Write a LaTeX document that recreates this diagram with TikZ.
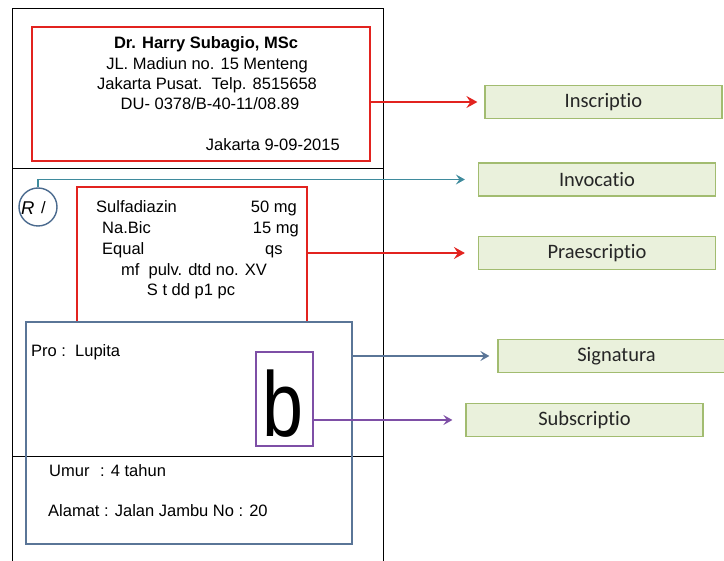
\documentclass[tikz,border=0pt]{standalone}
\usepackage{fontspec}
\setmainfont{Liberation Sans}
\newfontfamily\calib[Ligatures=NoCommon]{Carlito}
\usetikzlibrary{arrows.meta}
\definecolor{rxred}{HTML}{E2231F}
\definecolor{rxteal}{HTML}{3F8B9D}
\definecolor{rxcirc}{HTML}{4A6A8E}
\definecolor{rxsig}{HTML}{5A7597}
\definecolor{rxpurple}{HTML}{7E4FA6}
\definecolor{lblfill}{HTML}{EAF1DC}
\definecolor{lbldraw}{HTML}{A2BC70}
\definecolor{lbltext}{HTML}{262626}
\begin{document}
\begin{tikzpicture}[x=1pt,y=-1pt,
  txt/.style={inner sep=0pt, font=\fontsize{16.5}{20}\selectfont},
  redbox/.style={draw=rxred, line width=1.8pt, inner sep=0pt},
  sigbox/.style={draw=rxsig, line width=1.5pt, inner sep=0pt},
  purplebox/.style={draw=rxpurple, line width=1.3pt, inner sep=0pt},
  lbl/.style={draw=lbldraw, fill=lblfill, line width=1.2pt, minimum width=237pt, minimum height=33pt, inner sep=0pt, text=lbltext, font=\calib\fontsize{20.5}{22}\selectfont},
  tipst/.style={-{Stealth[length=11pt,width=12pt,inset=4pt]}},
  redarrow/.style={rxred, line width=1.8pt, tipst},
  tealarrow/.style={rxteal, line width=1.4pt, -{Stealth[length=9pt,width=10pt,inset=3.5pt]}},
  sigarrow/.style={rxsig, line width=1.4pt, -{Stealth[length=9pt,width=10pt,inset=3.5pt]}},
  purplearrow/.style={rxpurple, line width=1.4pt, -{Stealth[length=9pt,width=10pt,inset=3.5pt]}}]
\useasboundingbox (0,0) rectangle (724,561);
\clip (0,0) rectangle (724,561);
\fill[white] (0,0) rectangle (724,561);

% outer frame
\draw[line width=0.9pt] (12,561) -- (12,8) -- (383,8) -- (383,561);
\draw[line width=0.9pt] (12,168) -- (383,168);
\draw[line width=0.9pt] (12,456) -- (383,456);

% inscriptio
\node[redbox, minimum width=338pt, minimum height=134pt] (ins) at (201,94) {};
\node[txt, anchor=base] (t1) at (206,49) {\bfseries Dr. Harry Subagio, MSc};
\node[txt, anchor=base] (t2) at (207,70) {JL. Madiun no. 15 Menteng};
\node[txt, anchor=base] (t3) at (207,90) {Jakarta Pusat.\ \ Telp. 8515658};
\node[txt, anchor=base] (t4) at (210,110) {DU- 0378/B-40-11/08.89};
\node[txt, anchor=base east] (t5) at (340,151) {Jakarta 9-09-2015};

% invocatio circle
\node[draw=rxcirc, line width=1.4pt, circle, minimum size=38pt, inner sep=0pt] (rc) at (38,207) {};
\node[inner sep=0pt, anchor=base west, font=\fontsize{18.5}{20}\selectfont] (rr) at (21,215) {\itshape R};
\node[txt, anchor=base west] (rs) at (41,214) {/};

% praescriptio
\node[redbox, minimum width=230pt, minimum height=135pt] (pre) at (192,254.5) {};
\node[txt, anchor=base west] (p1) at (96,213) {Sulfadiazin};
\node[txt, anchor=base east] (p1b) at (297,213) {50 mg};
\node[txt, anchor=base west] (p2) at (102,234) {Na.Bic};
\node[txt, anchor=base east] (p2b) at (299,234) {15 mg};
\node[txt, anchor=base west] (p3) at (102,255) {Equal};
\node[txt, anchor=base west] (p3b) at (265,255) {qs};
\node[txt, anchor=base] (p4) at (194,276) {mf\ \ pulv. dtd no. XV};
\node[txt, anchor=base] (p5) at (191,296) {S t dd p1 pc};

% signatura
\node[sigbox, minimum width=326pt, minimum height=222pt] (sig) at (189,433) {};
\node[txt, anchor=base west] (s1) at (31,357) {Pro :\ \ Lupita};
\node[txt, anchor=base west] (s2) at (49,477) {Umur};
\node[txt, anchor=base west] (s2b) at (100,477) {: 4 tahun};
\node[txt, anchor=base west] (s3) at (48,517) {Alamat : Jalan Jambu No : 20};

% subscriptio
\node[purplebox, minimum width=57pt, minimum height=94pt] (sub) at (284.5,399) {};
\node[inner sep=0pt, anchor=base, font=\fontsize{92}{92}\selectfont] (bch) at (283,437) {\scalebox{0.8}[1]{b}};

% labels
\node[lbl] (l1) at (603.5,102) {Inscriptio};
\node[lbl] (l2) at (597,179.5) {Invocatio};
\node[lbl] (l3) at (597,253) {Praescriptio};
\node[lbl] (l4) at (616.5,356) {Signatura};
\node[lbl] (l5) at (584.5,420) {Subscriptio};

% connectors
\draw[redarrow, shorten >=7pt] (ins.east |- l1.west) -- (l1.west);
\draw[tealarrow, shorten >=13pt] (rc.north) |- (l2.west);
\draw[redarrow, shorten >=13pt] (pre.east |- l3.west) -- (l3.west);
\draw[sigarrow, shorten >=8pt] (sig.east |- l4.west) -- (l4.west);
\draw[purplearrow, shorten >=13pt] (sub.east |- l5.west) -- (l5.west);
\end{tikzpicture}
\end{document}
